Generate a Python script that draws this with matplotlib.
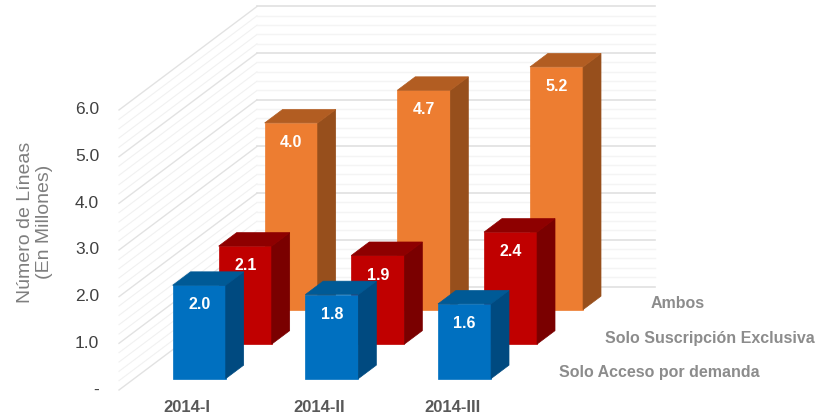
import matplotlib
matplotlib.use('Agg')
import matplotlib.pyplot as plt
from matplotlib.patches import Polygon

plt.rcParams['font.family'] = ['Liberation Sans', 'DejaVu Sans']

categories = ['2014-I', '2014-II', '2014-III']
series_names = ['Solo Acceso por demanda', 'Solo Suscripción Exclusiva', 'Ambos']
acceso = [2.0, 1.8, 1.6]
suscripcion = [2.1, 1.9, 2.4]
ambos = [4.0, 4.7, 5.2]
y_ticks = [0, 1, 2, 3, 4, 5, 6]
y_tick_labels = ['-', '1.0', '2.0', '3.0', '4.0', '5.0', '6.0']

W, H = 819, 420
PX_CAT = 132.67  # pixels per category
PX_VAL = 46.67   # pixels per unit of value
X0, Y0 = 119, 390  # front left corner of the floor
SHEAR_X = 46 / PX_CAT
SHEAR_Y = 34.5 / PX_VAL


def proj(c, v, d):
    # oblique projection: category, value, depth row -> axes data
    return c + d * SHEAR_X, v + d * SHEAR_Y


def bar3d(ax, c, v, d, colors):
    c0, c1 = c + 0.29, c + 0.69
    d0, d1 = d + 0.33, d + 0.72
    front, side, top = colors
    faces = [
        ([proj(c0, 0, d0), proj(c1, 0, d0), proj(c1, v, d0), proj(c0, v, d0)], front),
        ([proj(c1, 0, d0), proj(c1, 0, d1), proj(c1, v, d1), proj(c1, v, d0)], side),
        ([proj(c0, v, d0), proj(c1, v, d0), proj(c1, v, d1), proj(c0, v, d1)], top),
    ]
    for pts, col in faces:
        ax.add_patch(Polygon(pts, closed=True, facecolor=col, edgecolor=col, lw=0.5, zorder=2))
    x, y = proj(c + 0.49, v - 0.42, d0)
    ax.text(x, y, f'{v:.1f}', color='white', fontsize=11.5, fontweight='bold',
            ha='center', va='center', zorder=5)


fig = plt.figure(figsize=(W / 100, H / 100), dpi=100)
ax = fig.add_axes([0, 0, 1, 1])
ax.set_xlim(-X0 / PX_CAT, (W - X0) / PX_CAT)
ax.set_ylim(-(H - Y0) / PX_VAL, Y0 / PX_VAL)
ax.axis('off')

# walls
n_cat = len(categories)
n_rows = len(series_names)
for i in range(31):
    v = i / 5
    major = i % 5 == 0
    p0 = proj(0, v, 0)
    p1 = proj(0, v, n_rows)
    p2 = proj(n_cat, v, n_rows)
    ax.plot([p0[0], p1[0]], [p0[1], p1[1]], color='#e2e2e2' if major else '#f1f1f1',
            lw=1.0 if major else 0.8, zorder=1)
    ax.plot([p1[0], p2[0]], [p1[1], p2[1]], color='#e0e0e0' if major else '#f4f4f4',
            lw=1.2 if major else 1.0, zorder=1)

# back row first so the front ones cover it
rows = [
    (ambos, ('#ED7D31', '#974F1C', '#B25D22')),
    (suscripcion, ('#C00000', '#7A0000', '#8E0000')),
    (acceso, ('#0070C0', '#004A80', '#005A96')),
]
for r, (vals, colors) in enumerate(rows):
    d = n_rows - 1 - r
    for c, v in enumerate(vals):
        bar3d(ax, c, v, d, colors)

for v, lab in zip(y_ticks, y_tick_labels):
    ax.text(-0.15, v, lab, color='#404040', fontsize=12.5, ha='right', va='center')

for c, lab in enumerate(categories):
    ax.text(c + 0.51, -0.37, lab, color='#595959', fontsize=12, fontweight='bold',
            ha='center', va='center')

for d, lab in enumerate(series_names):
    x, y = proj(n_cat + 0.14, 0, d + 0.5)
    ax.text(x, y, lab, color='#8c8c8c', fontsize=11.5, fontweight='bold',
            ha='left', va='center')

ax.text(-0.635, 3.6, 'Número de Líneas\n(En Millones)', color='#7f7f7f', fontsize=14,
        rotation=90, ha='center', va='center', linespacing=1.15)

fig.savefig('out.png', dpi=100)
